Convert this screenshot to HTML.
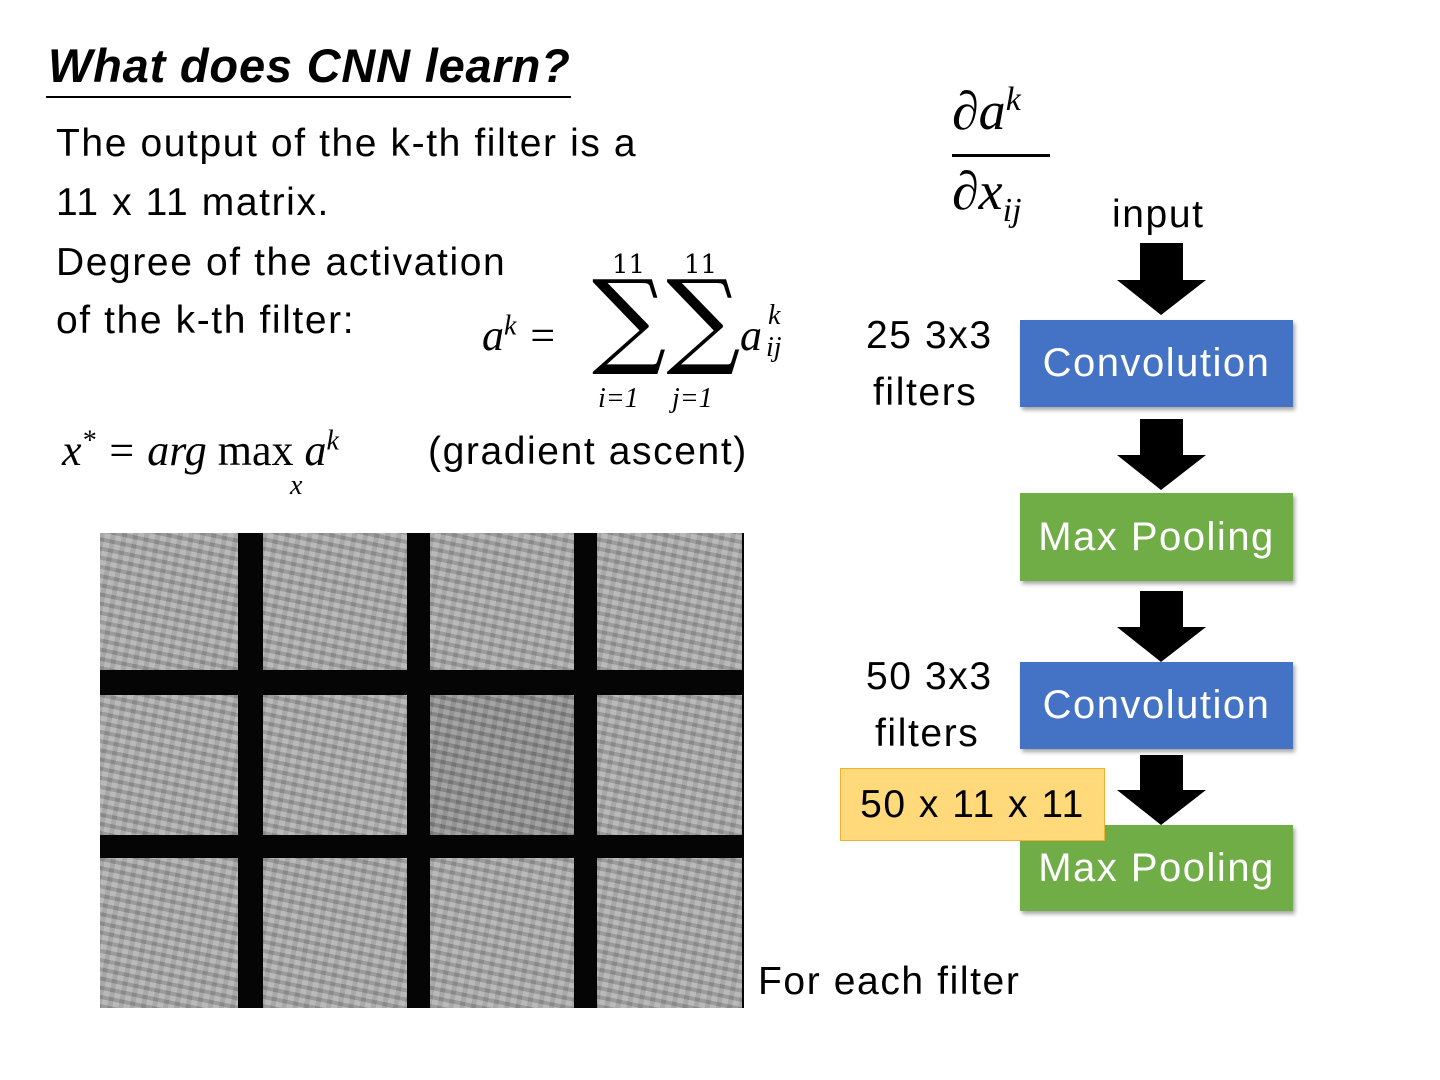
<!DOCTYPE html>
<html><head><meta charset="utf-8"><style>
body{margin:0;width:1440px;height:1080px;background:#fff;position:relative;overflow:hidden;font-family:"Liberation Sans",sans-serif}
.t{position:absolute;white-space:nowrap;color:#000}
.b{font-size:39px;letter-spacing:1.6px}
.m{font-family:"Liberation Serif","DejaVu Serif",serif;font-style:italic}
.box{position:absolute;left:1020px;width:273px;color:#fff;font-size:40px;letter-spacing:1.5px;display:flex;align-items:center;justify-content:center;box-shadow:2px 3px 4px rgba(0,0,0,.35)}
.blue{background:#4472C4}.green{background:#70AD47}
.sq{position:absolute;background-color:#a9a9a9;background-image:repeating-linear-gradient(12deg,rgba(0,0,0,.12) 0 4px,rgba(255,255,255,.12) 4px 9px),repeating-linear-gradient(100deg,rgba(0,0,0,.08) 0 5px,rgba(255,255,255,.08) 5px 11px)}
</style></head><body>
<div class="t" style="left:48px;top:38px;font-size:47px;letter-spacing:0.8px;font-weight:bold;font-style:italic">What does CNN learn?</div>
<div style="position:absolute;left:46px;top:96px;width:525px;height:2px;background:#000"></div>
<div class="t b" style="left:56px;top:122px">The output of the k-th filter is a</div>
<div class="t b" style="left:56px;top:181px">11 x 11 matrix.</div>
<div class="t b" style="left:56px;top:241px">Degree of the activation</div>
<div class="t b" style="left:56px;top:299px">of the k-th filter:</div>
<div class="t m" style="left:482px;top:310px;font-size:44px">a<sup style="font-size:28px">k</sup> =</div>
<div class="t" style="left:592px;top:266px;font-size:104px;font-family:'DejaVu Serif',serif;line-height:104px">∑∑</div>
<div class="t" style="left:612px;top:250px;font-size:26px;font-family:'DejaVu Serif',serif">11</div>
<div class="t" style="left:684px;top:250px;font-size:26px;font-family:'DejaVu Serif',serif">11</div>
<div class="t m" style="left:598px;top:383px;font-size:28px">i=1</div>
<div class="t m" style="left:672px;top:383px;font-size:28px">j=1</div>
<div class="t m" style="left:740px;top:310px;font-size:44px">a</div>
<div class="t m" style="left:768px;top:300px;font-size:28px">k</div>
<div class="t m" style="left:766px;top:332px;font-size:28px">ij</div>
<div class="t m" style="left:62px;top:425px;font-size:44px">x<sup style="font-size:28px">*</sup> = arg <span style="font-style:normal">max</span> a<sup style="font-size:28px">k</sup></div>
<div class="t m" style="left:290px;top:470px;font-size:28px">x</div>
<div class="t b" style="left:428px;top:430px">(gradient ascent)</div>

<div style="position:absolute;left:100px;top:533px;width:644px;height:475px;background:#050505"></div>
<div class="sq" style="left:100px;top:533px;width:138px;height:137px"></div>
<div class="sq" style="left:263px;top:533px;width:144px;height:137px"></div>
<div class="sq" style="left:430px;top:533px;width:144px;height:137px"></div>
<div class="sq" style="left:597px;top:533px;width:145px;height:137px"></div>
<div class="sq" style="left:100px;top:695px;width:138px;height:140px"></div>
<div class="sq" style="left:263px;top:695px;width:144px;height:140px"></div>
<div class="sq" style="left:430px;top:695px;width:144px;height:140px;background-color:#8f8f8f"></div>
<div class="sq" style="left:597px;top:695px;width:145px;height:140px"></div>
<div class="sq" style="left:100px;top:858px;width:138px;height:150px"></div>
<div class="sq" style="left:263px;top:858px;width:144px;height:150px"></div>
<div class="sq" style="left:430px;top:858px;width:144px;height:150px"></div>
<div class="sq" style="left:597px;top:858px;width:145px;height:150px"></div>
<div class="t b" style="left:758px;top:960px">For each filter</div>

<div class="t m" style="left:952px;top:80px;font-size:54px">∂a<sup style="font-size:34px">k</sup></div>
<div style="position:absolute;left:952px;top:154px;width:98px;height:3px;background:#000"></div>
<div class="t m" style="left:952px;top:160px;font-size:54px">∂x<sub style="font-size:34px">ij</sub></div>
<div class="t b" style="left:1112px;top:193px">input</div>

<svg style="position:absolute;left:0;top:0" width="1440" height="1080">
<g fill="#000">
<polygon points="1140,243 1183,243 1183,280 1206,280 1161,315 1117,280 1140,280"/>
<polygon points="1140,419 1183,419 1183,455 1206,455 1161,490 1117,455 1140,455"/>
<polygon points="1140,591 1183,591 1183,627 1206,627 1161,662 1117,627 1140,627"/>
<polygon points="1140,755 1183,755 1183,790 1206,790 1161,825 1117,790 1140,790"/>
</g></svg>
<div class="box blue" style="top:320px;height:87px">Convolution</div>
<div class="box green" style="top:493px;height:88px">Max Pooling</div>
<div class="box blue" style="top:662px;height:87px">Convolution</div>
<div class="box green" style="top:825px;height:86px">Max Pooling</div>
<div class="t b" style="left:866px;top:314px">25 3x3</div>
<div class="t b" style="left:873px;top:371px">filters</div>
<div class="t b" style="left:866px;top:655px">50 3x3</div>
<div class="t b" style="left:875px;top:712px">filters</div>
<div style="position:absolute;left:840px;top:768px;width:263px;height:71px;background:#FFD97A;border:1px solid #F0B030;font-size:39px;letter-spacing:1.5px;display:flex;align-items:center;justify-content:center">50 x 11 x 11</div>
</body></html>
